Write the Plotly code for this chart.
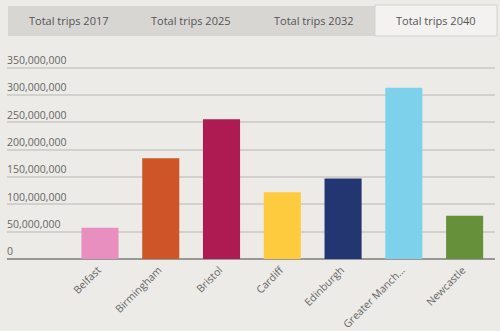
import plotly.graph_objects as go

# Total trips per city, 2040 projection
cities = ["Belfast", "Birmingham", "Bristol", "Cardiff", "Edinburgh",
          "Greater Manchester", "Newcastle"]
city_labels = ["Belfast", "Birmingham", "Bristol", "Cardiff", "Edinburgh",
               "Greater Manch...", "Newcastle"]
trips_2040 = [57_000_000, 184_000_000, 255_500_000, 122_000_000,
              147_000_000, 313_000_000, 79_000_000]
bar_colors = ["#e88fc0", "#cd5527", "#ad1b52", "#fecb3f",
              "#233671", "#7dd1ea", "#66903a"]

tab_titles = ["Total trips 2017", "Total trips 2025", "Total trips 2032",
              "Total trips 2040"]
y_ticks = [0, 50_000_000, 100_000_000, 150_000_000, 200_000_000,
           250_000_000, 300_000_000, 350_000_000]

W, H = 500, 331
ML, MR, MT, MB = 7, 5, 55, 72
PW, PH = W - ML - MR, H - MT - MB


def px(x):
    return (x - ML) / PW


def py(y):
    return (H - MB - y) / PH


BG = "#edebe8"

fig = go.Figure(go.Bar(
    x=cities,
    y=trips_2040,
    marker=dict(color=bar_colors, line=dict(width=0)),
    width=0.61,
    hoverinfo="x+y",
))

# tab strip above the chart
tab_edges = [8, 130, 252, 375, 497]
shapes = [dict(type="rect", xref="paper", yref="paper",
               x0=px(8), x1=px(375), y0=py(36), y1=py(6),
               fillcolor="#d8d6d3", line=dict(width=0), layer="above")]
shapes.append(dict(type="rect", xref="paper", yref="paper",
                   x0=px(375), x1=px(497), y0=py(36), y1=py(5),
                   fillcolor="#f3f2f0", line=dict(color="#d4d2cf", width=1),
                   layer="above"))
annotations = []
for i, t in enumerate(tab_titles):
    cx = (tab_edges[i] + tab_edges[i + 1]) / 2
    annotations.append(dict(
        text=t, xref="paper", yref="paper", x=px(cx), y=py(21),
        xanchor="center", yanchor="middle", showarrow=False,
        font=dict(family="Open Sans", size=11, color="#555555")))

fig.update_layout(
    width=W, height=H,
    margin=dict(l=ML, r=MR, t=MT, b=MB, pad=0),
    paper_bgcolor=BG, plot_bgcolor=BG,
    showlegend=False,
    shapes=shapes,
    annotations=annotations,
    font=dict(family="Open Sans", size=11, color="#666666"),
    xaxis=dict(
        range=[-1.53, 6.5],
        tickmode="array", tickvals=cities, ticktext=city_labels,
        tickangle=-45, showgrid=False, ticks="",
        showline=False, zeroline=False, automargin=False,
        ticklabelshift=-2, ticklabelstandoff=2,
        tickfont=dict(family="Open Sans", size=10.5, color="#666666"),
    ),
    yaxis=dict(
        range=[0, 373_000_000],
        tickmode="array", tickvals=y_ticks,
        tickformat=",d",
        ticklabelposition="inside top",
        ticklabeloverflow="allow",
        ticklabelstandoff=-3,
        showgrid=True, gridcolor="#d3d1ce", gridwidth=1.5,
        zeroline=True, zerolinecolor="#9a9896", zerolinewidth=2,
        showline=False, ticks="", automargin=False,
        tickfont=dict(family="Open Sans", size=10.5, color="#666666"),
    ),
    bargap=0.39,
)

fig.write_html("out.html")
